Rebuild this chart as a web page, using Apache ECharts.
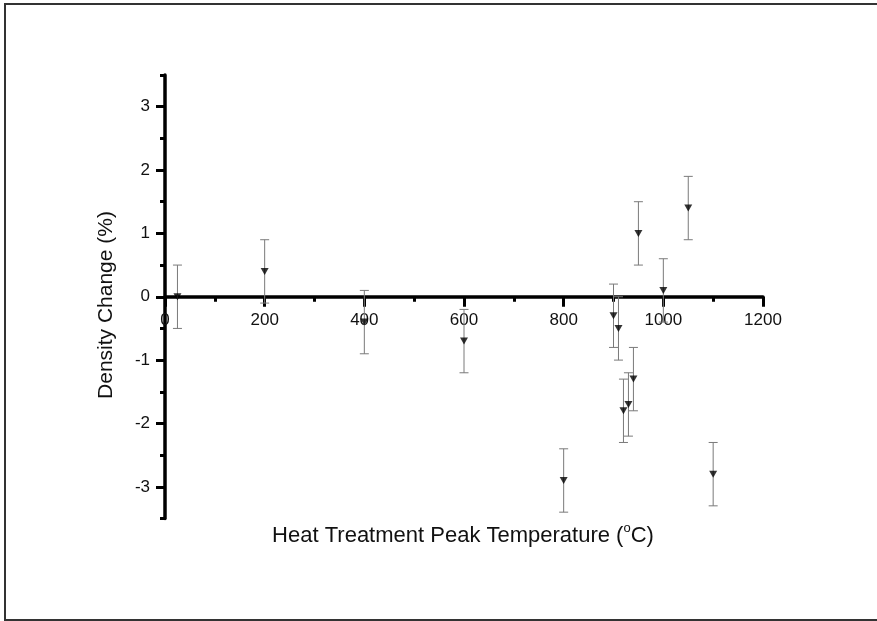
<!DOCTYPE html>
<html>
<head>
<meta charset="utf-8">
<script src="https://cdn.jsdelivr.net/npm/echarts@6/dist/echarts.min.js"></script>
<style>
  html, body { margin: 0; padding: 0; background: #fff; overflow: hidden; }
  #chart { position: absolute; left: 0; top: 0; width: 877px; height: 621px; }
  #frame {
    position: absolute; left: 4px; top: 3px; width: 900px; height: 614px;
    border-top: 2px solid #333; border-left: 2px solid #333; border-bottom: 2px solid #333;
    pointer-events: none;
  }
</style>
</head>
<body>
<div id="chart"></div>
<div id="frame"></div>
<script>
// Peak heat-treatment temperature (°C) for each sample
const temperatures = [25, 200, 400, 600, 800, 900, 910, 920, 930, 940, 950, 1000, 1050, 1100];
// Measured density change (%)
const densityChange = [0, 0.4, -0.4, -0.7, -2.9, -0.3, -0.5, -1.8, -1.7, -1.3, 1.0, 0.1, 1.4, -2.8];
// Measurement uncertainty (±, %)
const uncertainty = [0.5, 0.5, 0.5, 0.5, 0.5, 0.5, 0.5, 0.5, 0.5, 0.5, 0.5, 0.5, 0.5, 0.5];

// Axis ranges and ticks
const xMin = 0, xMax = 1200;
const yMin = -3.5, yMax = 3.5;
const xTicks = [0, 200, 400, 600, 800, 1000, 1200];
const yMajorTicks = [-3, -2, -1, 0, 1, 2, 3];
const yMinorTicks = [-3.5, -2.5, -1.5, -0.5, 0.5, 1.5, 2.5, 3.5];

const xTitle = 'Heat Treatment Peak Temperature (';
const yTitle = 'Density Change (%)';

const points = temperatures.map((t, i) => [t, densityChange[i], uncertainty[i]]);

const FONT = 'Liberation Sans, Arial, sans-serif';
const axisColor = '#000';

// plot area
const W = 877, H = 621;
const gridBox = { left: 165, right: 114, top: 75, bottom: 102.5 };
const plotHeight = H - gridBox.top - gridBox.bottom;
// the temperature axis crosses the density axis at 0
const xAxisOffset = -plotHeight * (0 - yMin) / (yMax - yMin);

const chart = echarts.init(document.getElementById('chart'), null, { renderer: 'canvas' });

chart.setOption({
  animation: false,
  backgroundColor: '#fff',
  grid: gridBox,
  xAxis: [{
    type: 'value',
    position: 'bottom',
    offset: xAxisOffset,
    min: xMin, max: xMax, interval: 200,
    axisLine: { show: true, onZero: false, lineStyle: { color: axisColor, width: 3.5 } },
    axisTick: { show: true, inside: false, length: 10, lineStyle: { color: axisColor, width: 3 } },
    minorTick: { show: true, splitNumber: 2, length: 5, lineStyle: { color: axisColor, width: 3 } },
    axisLabel: { show: true, margin: 15, fontSize: 17, fontFamily: FONT, color: '#111',
      customValues: xTicks, formatter: v => String(v) },
    splitLine: { show: false },
    minorSplitLine: { show: false }
  }],
  yAxis: [{
    type: 'value',
    position: 'left',
    min: yMin, max: yMax, interval: 0.5,
    axisLine: { show: true, onZero: false, lineStyle: { color: axisColor, width: 3.5 } },
    axisTick: { show: true, length: 9, customValues: yMajorTicks, lineStyle: { color: axisColor, width: 3 } },
    axisLabel: { show: true, margin: 15, fontSize: 17, fontFamily: FONT, color: '#111',
      customValues: yMajorTicks, formatter: v => String(v) },
    splitLine: { show: false }
  }, {
    type: 'value',
    position: 'left',
    min: yMin, max: yMax, interval: 0.5,
    axisLine: { show: false, onZero: false },
    axisTick: { show: true, length: 5, customValues: yMinorTicks, lineStyle: { color: axisColor, width: 3 } },
    axisLabel: { show: false },
    splitLine: { show: false }
  }],
  graphic: [{
    type: 'text',
    x: 463, y: 536,
    style: {
      text: xTitle + '{s|o}C)',
      font: '22px ' + FONT,
      fill: '#111',
      align: 'center',
      verticalAlign: 'middle',
      rich: {
        s: { fontSize: 13, fontFamily: FONT, fill: '#111', padding: [0, 0, 15, 0] }
      }
    }
  }, {
    type: 'text',
    x: 106, y: 305,
    rotation: Math.PI / 2,
    style: {
      text: yTitle,
      font: '21px ' + FONT,
      fill: '#111',
      align: 'center',
      verticalAlign: 'middle'
    }
  }],
  series: [{
    // vertical error bars with end caps
    type: 'custom',
    data: points,
    z: 3,
    clip: false,
    renderItem: function (params, api) {
      const x = api.value(0), y = api.value(1), e = api.value(2);
      const hi = api.coord([x, y + e]);
      const lo = api.coord([x, y - e]);
      const cap = 4.5;
      const style = { stroke: '#7a7a7a', lineWidth: 1, fill: null };
      return {
        type: 'group',
        children: [
          { type: 'line', shape: { x1: hi[0], y1: hi[1], x2: lo[0], y2: lo[1] }, style: style },
          { type: 'line', shape: { x1: hi[0] - cap, y1: hi[1], x2: hi[0] + cap, y2: hi[1] }, style: style },
          { type: 'line', shape: { x1: lo[0] - cap, y1: lo[1], x2: lo[0] + cap, y2: lo[1] }, style: style }
        ]
      };
    }
  }, {
    type: 'scatter',
    data: points.map(p => [p[0], p[1]]),
    symbol: 'triangle',
    symbolRotate: 180,
    symbolSize: [8, 7],
    itemStyle: { color: '#000' },
    z: 4
  }]
});
</script>
</body>
</html>
